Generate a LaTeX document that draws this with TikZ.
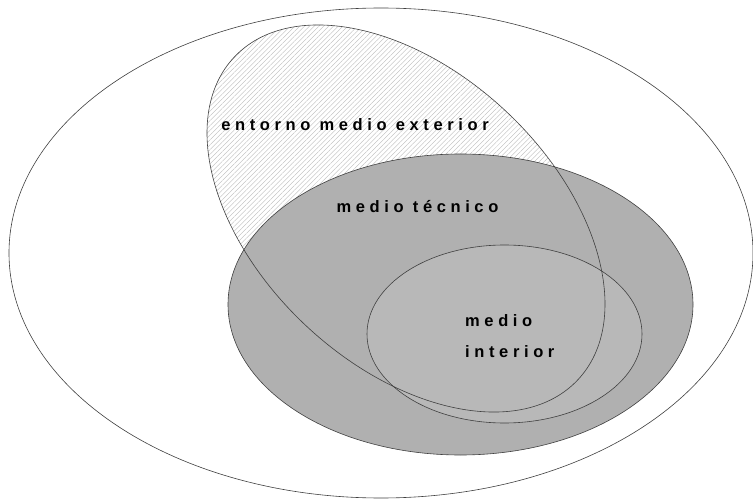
\documentclass[tikz,border=0pt]{standalone}
\usepackage{fontspec}
\setmainfont{Liberation Sans}
\newfontfamily\lblfont[LetterSpace=28]{Liberation Sans}
\usetikzlibrary{patterns.meta}
\begin{document}
\begin{tikzpicture}[x=1pt,y=1pt,
  outline/.style={draw=black!75,line width=0.6pt},
  lbl/.style={inner sep=0pt,font=\lblfont\bfseries\fontsize{16.5}{19}\selectfont}]
\useasboundingbox (0,0) rectangle (753,499);
\fill[white] (0,0) rectangle (753,499);
% fills
\begin{scope}[shift={(406,280.5)},rotate=-43.2]
  \fill[pattern={Lines[angle=45,distance=3.4pt,line width=0.35pt]},pattern color=black!28]
    (0,0) ellipse [x radius=235.7,y radius=146.6];
\end{scope}
\fill[black!31] (460.5,194.5) ellipse [x radius=232.5,y radius=150.5];
\fill[black!28] (504.5,165) ellipse [x radius=137.5,y radius=89];
% outlines
\draw[outline] (381,246) ellipse [x radius=372,y radius=245];
\draw[outline] (460.5,194.5) ellipse [x radius=232.5,y radius=150.5];
\draw[outline] (504.5,165) ellipse [x radius=137.5,y radius=89];
\begin{scope}[shift={(406,280.5)},rotate=-43.2]
  \draw[outline] (0,0) ellipse [x radius=235.7,y radius=146.6];
\end{scope}
% labels
\node[lbl,anchor=base] (ext) at (355,368) {entorno medio exterior};
\node[lbl,anchor=base] (tec) at (417.5,286) {medio técnico};
\node[lbl,anchor=base west] (med) at (465,173) {medio};
\node[lbl,anchor=base west] (int) at (465,142) {interior};
\end{tikzpicture}
\end{document}
